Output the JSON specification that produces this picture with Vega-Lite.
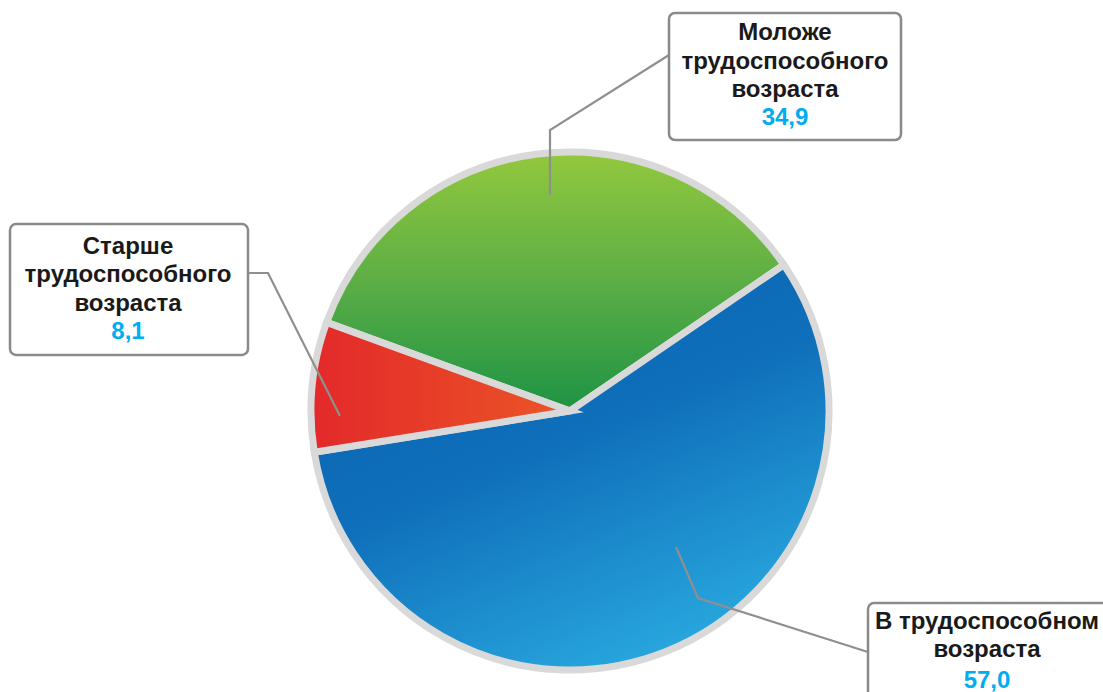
{
  "$schema": "https://vega.github.io/schema/vega-lite/v6.json",
  "width": 1103,
  "height": 692,
  "padding": 0,
  "autosize": {"type": "none"},
  "config": {
    "view": {"stroke": null},
    "locale": {"number": {"decimal": ",", "thousands": " ", "grouping": [3], "currency": ["", " ₽"]}},
    "axis": {"disable": true}
  },
  "datasets": {
    "slices": [
      {"category": "Моложе трудоспособного возраста", "value": 34.9, "order": 1},
      {"category": "В трудоспособном возраста", "value": 57.0, "order": 2},
      {"category": "Старше трудоспособного возраста", "value": 8.1, "order": 3}
    ],
    "annotations": [
      {"category": "Моложе трудоспособного возраста", "label": "Моложе\nтрудоспособного\nвозраста", "bx1": 38.08, "bx2": 127.31, "by1": 153.08, "by2": 104.23, "tx": 82.69, "ty": 145.38, "vy": 112.69},
      {"category": "Старше трудоспособного возраста", "label": "Старше\nтрудоспособного\nвозраста", "bx1": -215.38, "bx2": -123.85, "by1": 71.92, "by2": 21.54, "tx": -170.0, "ty": 63.08, "vy": 30.38},
      {"category": "В трудоспособном возраста", "label": "В трудоспособном\nвозраста", "bx1": 114.62, "bx2": 209.6, "by1": -73.85, "by2": -111.15, "tx": 160.38, "ty": -81.15, "vy": -103.85}
    ],
    "leaders": [
      {"category": "Моложе трудоспособного возраста", "i": 1, "x": 38.08, "y": 136.92},
      {"category": "Моложе трудоспособного возраста", "i": 2, "x": -7.69, "y": 108.08},
      {"category": "Моложе трудоспособного возраста", "i": 3, "x": -7.69, "y": 83.08},
      {"category": "Старше трудоспособного возраста", "i": 1, "x": -123.85, "y": 53.08},
      {"category": "Старше трудоспособного возраста", "i": 2, "x": -116.15, "y": 53.08},
      {"category": "Старше трудоспособного возраста", "i": 3, "x": -88.46, "y": -1.92},
      {"category": "В трудоспособном возраста", "i": 1, "x": 114.62, "y": -92.69},
      {"category": "В трудоспособном возраста", "i": 2, "x": 49.23, "y": -71.92},
      {"category": "В трудоспособном возраста", "i": 3, "x": 40.77, "y": -52.31}
    ]
  },
  "layer": [
    {
      "data": {"name": "slices"},
      "transform": [
        {"stack": "value", "groupby": [], "sort": [{"field": "order"}], "as": ["v0", "v1"]},
        {"filter": "datum.order == 1"}
      ],
      "mark": {
        "type": "arc", "radius": 259, "stroke": "#d9d9d9", "strokeWidth": 7,
        "fill": {"gradient": "linear", "x1": 0.5, "y1": 0, "x2": 0.5, "y2": 1,
          "stops": [{"offset": 0, "color": "#93c83e"}, {"offset": 0.5, "color": "#5cae45"}, {"offset": 1, "color": "#1d9344"}]}
      },
      "encoding": {
        "theta": {"field": "v0", "type": "quantitative", "scale": {"domain": [0, 100], "range": [-1.2217, 5.0615]}},
        "theta2": {"field": "v1"},
        "x": {"datum": 0, "type": "quantitative", "scale": {"domain": [-219.23, 205.0], "nice": false, "zero": false}},
        "y": {"datum": 0, "type": "quantitative", "scale": {"domain": [-108.08, 158.08], "nice": false, "zero": false}}
      }
    },
    {
      "data": {"name": "slices"},
      "transform": [
        {"stack": "value", "groupby": [], "sort": [{"field": "order"}], "as": ["v0", "v1"]},
        {"filter": "datum.order == 2"}
      ],
      "mark": {
        "type": "arc", "radius": 259, "stroke": "#d9d9d9", "strokeWidth": 7,
        "fill": {"gradient": "linear", "x1": 0.3, "y1": 0.15, "x2": 0.75, "y2": 1,
          "stops": [{"offset": 0, "color": "#0b67b3"}, {"offset": 0.35, "color": "#0f6fba"}, {"offset": 1, "color": "#2badE2"}]}
      },
      "encoding": {
        "theta": {"field": "v0", "type": "quantitative", "scale": {"domain": [0, 100], "range": [-1.2217, 5.0615]}},
        "theta2": {"field": "v1"},
        "x": {"datum": 0, "type": "quantitative"},
        "y": {"datum": 0, "type": "quantitative"}
      }
    },
    {
      "data": {"name": "slices"},
      "transform": [
        {"stack": "value", "groupby": [], "sort": [{"field": "order"}], "as": ["v0", "v1"]},
        {"filter": "datum.order == 3"}
      ],
      "mark": {
        "type": "arc", "radius": 259, "stroke": "#d9d9d9", "strokeWidth": 7,
        "fill": {"gradient": "linear", "x1": 0, "y1": 0.5, "x2": 1, "y2": 0.5,
          "stops": [{"offset": 0, "color": "#e3292a"}, {"offset": 1, "color": "#eb5527"}]}
      },
      "encoding": {
        "theta": {"field": "v0", "type": "quantitative", "scale": {"domain": [0, 100], "range": [-1.2217, 5.0615]}},
        "theta2": {"field": "v1"},
        "x": {"datum": 0, "type": "quantitative"},
        "y": {"datum": 0, "type": "quantitative"}
      }
    },
    {
      "data": {"name": "leaders"},
      "mark": {"type": "line", "stroke": "#8f8f8f", "strokeWidth": 2.2},
      "encoding": {
        "x": {"field": "x", "type": "quantitative"},
        "y": {"field": "y", "type": "quantitative"},
        "detail": {"field": "category"},
        "order": {"field": "i"}
      }
    },
    {
      "data": {"name": "annotations"},
      "mark": {"type": "rect", "fill": "white", "stroke": "#8a8a8a", "strokeWidth": 2.5, "cornerRadius": 6, "clip": true},
      "encoding": {
        "x": {"field": "bx1", "type": "quantitative"},
        "x2": {"field": "bx2"},
        "y": {"field": "by1", "type": "quantitative"},
        "y2": {"field": "by2"}
      }
    },
    {
      "data": {"name": "annotations"},
      "mark": {"type": "text", "font": "Liberation Sans", "fontWeight": "bold", "fontSize": 24, "color": "#1a1a1a", "lineBreak": "\n", "lineHeight": 28.5, "align": "center", "baseline": "middle"},
      "encoding": {
        "x": {"field": "tx", "type": "quantitative"},
        "y": {"field": "ty", "type": "quantitative"},
        "text": {"field": "label"}
      }
    },
    {
      "data": {"name": "annotations"},
      "transform": [
        {"lookup": "category", "from": {"data": {"name": "slices"}, "key": "category", "fields": ["value"]}}
      ],
      "mark": {"type": "text", "font": "Liberation Sans", "fontWeight": "bold", "fontSize": 24, "color": "#00adef", "align": "center", "baseline": "middle"},
      "encoding": {
        "x": {"field": "tx", "type": "quantitative"},
        "y": {"field": "vy", "type": "quantitative"},
        "text": {"field": "value", "type": "quantitative", "format": ".1f"}
      }
    }
  ]
}
